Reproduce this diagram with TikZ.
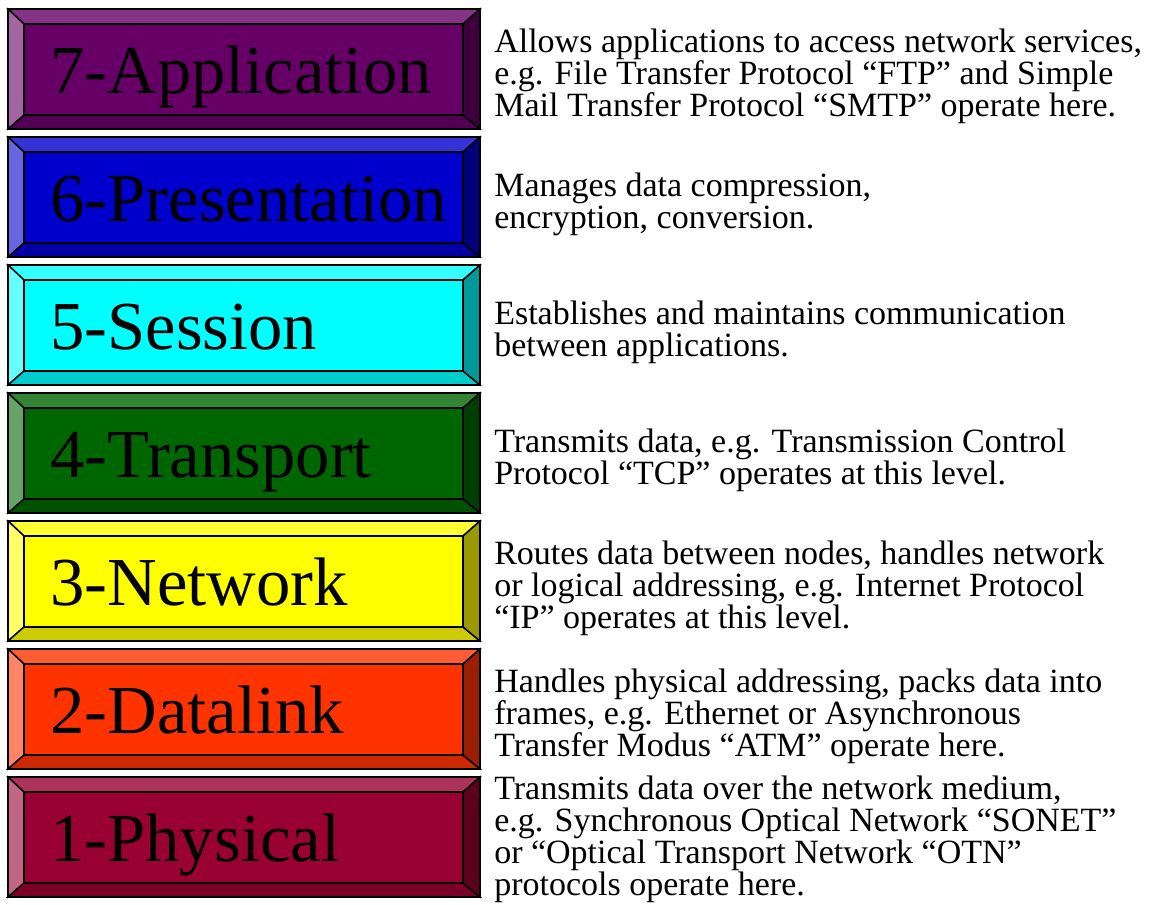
\documentclass[tikz,border=0pt]{standalone}
\usepackage{fontspec}
\setmainfont{Liberation Serif}

% face colours of the seven layers
\definecolor{appc}{HTML}{660066}
\definecolor{prsc}{HTML}{0000CC}
\definecolor{sesc}{HTML}{00FFFF}
\definecolor{trnc}{HTML}{006600}
\definecolor{netc}{HTML}{FFFF00}
\definecolor{dlkc}{HTML}{FF3300}
\definecolor{phyc}{HTML}{990033}

\tikzset{
  facet/.style={draw=black, line width=1.1pt, line join=miter},
  layerlabel/.style={anchor=base west, inner sep=0pt,
    font=\fontsize{51.5}{51.5}\selectfont},
  layerdesc/.style={anchor=west, inner sep=0pt, align=left,
    font=\fontsize{25.5}{24}\selectfont},
}

% #1 row index, #2 name, #3 colour, #4 label, #5 description,
% #6 vertical offset of the description from the row middle
\newcommand\osilayer[6]{%
  \pgfmathsetmacro\ytop{9+128*#1}
  \pgfmathsetmacro\ybot{\ytop+120}
  \pgfmathsetmacro\yit{\ytop+15}
  \pgfmathsetmacro\yib{\ybot-14}
  \pgfmathsetmacro\ymid{\ytop+60}
  \coordinate (#2-otl) at (8,\ytop);
  \coordinate (#2-otr) at (480,\ytop);
  \coordinate (#2-obl) at (8,\ybot);
  \coordinate (#2-obr) at (480,\ybot);
  \coordinate (#2-itl) at (24,\yit);
  \coordinate (#2-itr) at (463,\yit);
  \coordinate (#2-ibl) at (24,\yib);
  \coordinate (#2-ibr) at (463,\yib);
  % bevelled frame
  \filldraw[facet, fill=#3!80!white] (#2-otl) -- (#2-otr) -- (#2-itr) -- (#2-itl) -- cycle;
  \filldraw[facet, fill=#3!60!white] (#2-otl) -- (#2-itl) -- (#2-ibl) -- (#2-obl) -- cycle;
  \filldraw[facet, fill=#3!80!black] (#2-obl) -- (#2-ibl) -- (#2-ibr) -- (#2-obr) -- cycle;
  \filldraw[facet, fill=#3!60!black] (#2-otr) -- (#2-obr) -- (#2-ibr) -- (#2-itr) -- cycle;
  % face
  \filldraw[facet, fill=#3] (#2-itl) rectangle (#2-ibr);
  \draw[facet] (#2-otl) rectangle (#2-obr);
  \node[layerlabel] (#2-label) at (50,\ymid+24) {#4};
  \node[layerdesc] (#2-desc) at (494,\ymid+#6) {#5};
}

\begin{document}
\begin{tikzpicture}[x=0.75pt, y=-0.75pt]
  \useasboundingbox (0,0) rectangle (1155,904);

  \osilayer{0}{app}{appc}{7-Application}{Allows applications to access network services,\\
    e.g. File Transfer Protocol “FTP” and Simple\\
    Mail Transfer Protocol “SMTP” operate here.}{7}
  \osilayer{1}{prs}{prsc}{6-Presentation}{Manages data compression,\\
    encryption, conversion.}{7}
  \osilayer{2}{ses}{sesc}{5-Session}{Establishes and maintains communication\\
    between applications.}{7}
  \osilayer{3}{trn}{trnc}{4-Transport}{Transmits data, e.g. Transmission Control\\
    Protocol “TCP” operates at this level.}{7}
  \osilayer{4}{net}{netc}{3-Network}{Routes data between nodes, handles network\\
    or logical addressing, e.g. Internet Protocol\\
    “IP” operates at this level.}{7}
  \osilayer{5}{dlk}{dlkc}{2-Datalink}{Handles physical addressing, packs data into\\
    frames, e.g. Ethernet or Asynchronous\\
    Transfer Modus “ATM” operate here.}{7}
  \osilayer{6}{phy}{phyc}{1-Physical}{Transmits data over the network medium,\\
    e.g. Synchronous Optical Network “SONET”\\
    or “Optical Transport Network “OTN”\\
    protocols operate here.}{2}
\end{tikzpicture}
\end{document}
